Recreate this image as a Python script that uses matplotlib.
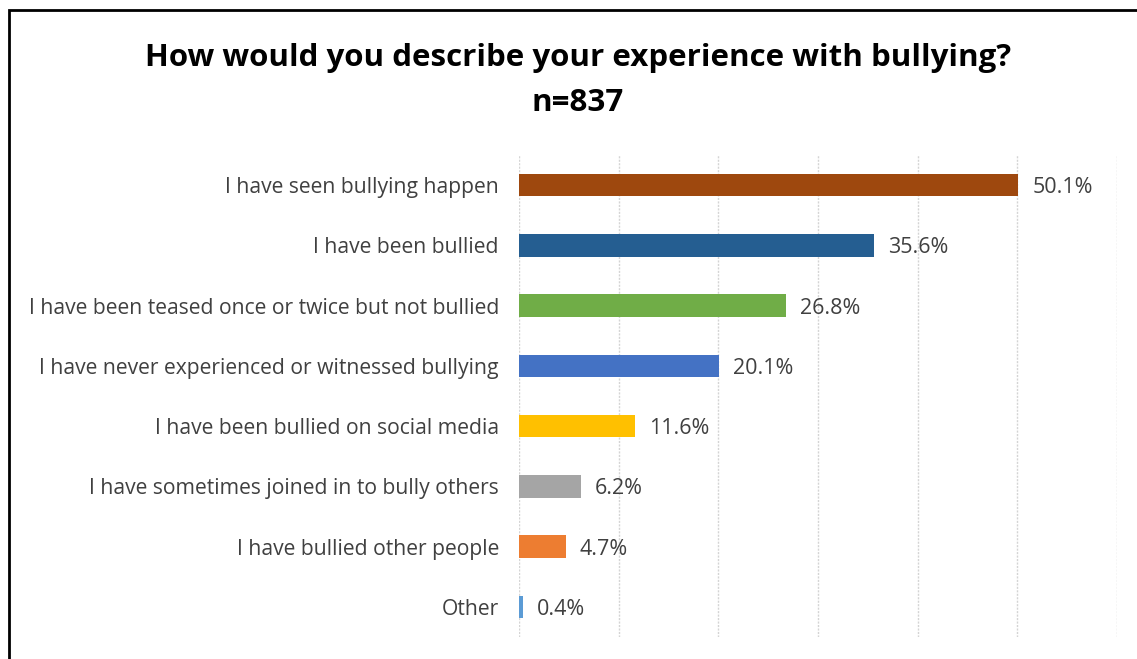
import matplotlib.pyplot as plt
from matplotlib.patches import Rectangle

# survey answers, top to bottom
answers = [
    "I have seen bullying happen",
    "I have been bullied",
    "I have been teased once or twice but not bullied",
    "I have never experienced or witnessed bullying",
    "I have been bullied on social media",
    "I have sometimes joined in to bully others",
    "I have bullied other people",
    "Other",
]
pct = [50.1, 35.6, 26.8, 20.1, 11.6, 6.2, 4.7, 0.4]
colors = ["#9E480E", "#255E91", "#70AD47", "#4472C4",
          "#FFC000", "#A5A5A5", "#ED7D31", "#5B9BD5"]

plt.rcParams['font.family'] = ['Open Sans', 'DejaVu Sans']

fig = plt.figure(figsize=(11.37, 6.59), dpi=100)
ax = fig.add_axes([0.4565, 0.0334, 0.5259, 0.7314])

ypos = list(range(len(answers)))
ax.barh(ypos, pct, height=0.37, color=colors)
ax.set_ylim(len(answers) - 0.5, -0.5)
ax.set_xlim(0, 60)
ax.set_xticks(range(0, 61, 10))
ax.tick_params(axis='x', bottom=False, labelbottom=False)
ax.tick_params(axis='y', left=False, pad=11, labelsize=15.2, labelcolor='#404040')
ax.set_yticks(ypos)
ax.set_yticklabels(answers)
ax.grid(axis='x', color='#D4D4D4', linestyle=(0, (1.5, 1)), linewidth=1)
ax.set_axisbelow(True)
for s in ax.spines.values():
    s.set_visible(False)

for y, v in zip(ypos, pct):
    ax.text(v + 1.4, y, f"{v:.1f}%", va='center_baseline', ha='left',
            fontsize=15.5, color='#404040')

fig.text(0.508, 0.912, "How would you describe your experience with bullying?",
         ha='center', va='center', fontsize=22.5, fontweight='bold', color='black')
fig.text(0.508, 0.843, "n=837", ha='center', va='center',
         fontsize=22.5, fontweight='bold', color='black')

# outer frame, only left and top edges visible
fig.patches.append(Rectangle((0.0075, -0.1), 1.2, 1.0845, transform=fig.transFigure,
                             fill=False, edgecolor='black', linewidth=2))

fig.savefig("out.png", dpi=100)
